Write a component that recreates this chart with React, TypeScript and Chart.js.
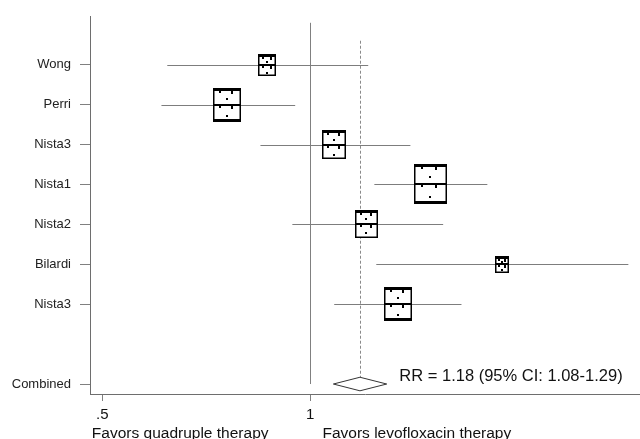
import { useEffect, useRef } from 'react';
import { Chart, registerables } from 'chart.js';

Chart.register(...registerables);

// ---- Data ----
const studies = ['Wong', 'Perri', 'Nista3', 'Nista1', 'Nista2', 'Bilardi', 'Nista3'];
const studyRows = [1, 2, 3, 4, 5, 6, 7];
const riskRatio = [0.866, 0.758, 1.083, 1.491, 1.205, 1.897, 1.341];
const ciLow = [0.621, 0.609, 0.847, 1.238, 0.942, 1.246, 1.083];
const ciHigh = [1.213, 0.951, 1.396, 1.804, 1.557, 2.886, 1.655];
const weights = [7.6, 18.3, 13.5, 25.4, 12.4, 4.6, 18.3];

const combinedLabel = 'Combined';
const combinedRow = 9;
const combinedRR = 1.18;
const combinedLow = 1.08;
const combinedHigh = 1.29;
const combinedText = 'RR = 1.18 (95% CI: 1.08-1.29)';

const xTickValues = [0.5, 1];
const xTickLabels = ['.5', '1'];
const favorTitles = ['Favors quadruple therapy', 'Favors levofloxacin therapy'];

const FONT = '"Liberation Sans", Arial, sans-serif';

const rowLabelMap: Record<number, string> = {};
studyRows.forEach((r, i) => (rowLabelMap[r] = studies[i]));
rowLabelMap[combinedRow] = combinedLabel;

const forestPlugin = {
  id: 'forest',
  afterDatasetsDraw(chart: any) {
    const { ctx } = chart;
    const x = chart.scales.x;
    const y = chart.scales.y;
    ctx.save();

    // no-effect line
    const px1 = Math.round(x.getPixelForValue(1)) + 0.5;
    ctx.strokeStyle = '#808080';
    ctx.lineWidth = 1;
    ctx.beginPath();
    ctx.moveTo(px1, y.getPixelForValue(-0.05));
    ctx.lineTo(px1, y.getPixelForValue(combinedRow));
    ctx.stroke();

    // overall effect dashed line
    const dH = 0.17;
    const pxC = Math.round(x.getPixelForValue(combinedRR)) + 0.5;
    ctx.setLineDash([3, 2]);
    ctx.strokeStyle = '#8a8a8a';
    ctx.beginPath();
    ctx.moveTo(pxC, y.getPixelForValue(0.4));
    ctx.lineTo(pxC, y.getPixelForValue(combinedRow - dH));
    ctx.stroke();
    ctx.setLineDash([]);

    // CI lines
    ctx.strokeStyle = '#7d7d7d';
    ctx.lineWidth = 1;
    studyRows.forEach((r, i) => {
      const py = Math.round(y.getPixelForValue(r)) + 0.5;
      ctx.beginPath();
      ctx.moveTo(x.getPixelForValue(ciLow[i]), py);
      ctx.lineTo(x.getPixelForValue(ciHigh[i]), py);
      ctx.stroke();
    });

    // boxes
    studyRows.forEach((r, i) => {
      const cx = x.getPixelForValue(riskRatio[i]);
      const cy = y.getPixelForValue(r);
      const w = Math.round(6.55 * Math.sqrt(weights[i]));
      const h = Math.round(w * 1.2);
      const left = Math.round(cx - w / 2);
      const top = Math.round(cy - h / 2);
      ctx.fillStyle = '#ffffff';
      ctx.fillRect(left, top, w, h);
      ctx.strokeStyle = '#000000';
      ctx.lineWidth = 1.5;
      ctx.strokeRect(left + 0.75, top + 0.75, w - 1.5, h - 1.5);
      ctx.fillStyle = '#000000';
      // thick top band
      ctx.fillRect(left, top, w, 3);
      // middle bar
      const mid = Math.round(cy);
      ctx.fillRect(left, mid - 1, w, 2);
      // little notches & dots
      ctx.fillRect(left + Math.round(w * 0.2), top + 3, 2, 2);
      ctx.fillRect(left + Math.round(w * 0.65), top + 3, 2, 3);
      ctx.fillRect(left + Math.round(w * 0.45), top + Math.round(h * 0.3), 2, 2);
      ctx.fillRect(left + Math.round(w * 0.2), mid + 1, 2, 2);
      ctx.fillRect(left + Math.round(w * 0.65), mid + 1, 2, 3);
      ctx.fillRect(left + Math.round(w * 0.45), mid + Math.round(h * 0.3), 2, 2);
      if (w > 24) {
        ctx.fillRect(left, top + h - 3, w, 3);
      }
    });

    // diamond
    const cyD = y.getPixelForValue(combinedRow);
    const hD = y.getPixelForValue(combinedRow) - y.getPixelForValue(combinedRow - dH);
    ctx.beginPath();
    ctx.moveTo(x.getPixelForValue(combinedLow), cyD);
    ctx.lineTo(x.getPixelForValue(combinedRR), cyD - hD);
    ctx.lineTo(x.getPixelForValue(combinedHigh), cyD);
    ctx.lineTo(x.getPixelForValue(combinedRR), cyD + hD);
    ctx.closePath();
    ctx.fillStyle = '#ffffff';
    ctx.fill();
    ctx.strokeStyle = '#333333';
    ctx.lineWidth = 1;
    ctx.stroke();

    // RR text
    ctx.fillStyle = '#111111';
    ctx.font = `16.5px ${FONT}`;
    ctx.textAlign = 'left';
    ctx.textBaseline = 'middle';
    ctx.fillText(combinedText, x.getPixelForValue(1.31) + 8, y.getPixelForValue(combinedRow - 0.18));

    // favors titles
    ctx.font = `15.5px ${FONT}`;
    ctx.textBaseline = 'alphabetic';
    ctx.fillStyle = '#111111';
    ctx.textAlign = 'right';
    ctx.fillText(favorTitles[0], px1 - 42, 438);
    ctx.textAlign = 'left';
    ctx.fillText(favorTitles[1], px1 + 12, 438);

    ctx.restore();
  },
};

export default function App() {
  const canvasRef = useRef<HTMLCanvasElement | null>(null);

  useEffect(() => {
    if (!canvasRef.current) return;
    const chart = new Chart(canvasRef.current, {
      type: 'scatter',
      data: {
        datasets: [
          {
            data: studyRows.map((r, i) => ({ x: riskRatio[i], y: r })),
            pointRadius: 0,
            showLine: false,
          },
        ],
      },
      options: {
        animation: false,
        responsive: false,
        layout: { padding: { top: 10, right: 0, left: 0, bottom: 0 } },
        plugins: {
          legend: { display: false },
          tooltip: { enabled: false },
        },
        scales: {
          x: {
            type: 'logarithmic',
            min: 0.48,
            max: 3.0,
            afterBuildTicks: (scale: any) => {
              scale.ticks = xTickValues.map((v) => ({ value: v }));
            },
            afterFit: (scale: any) => {
              scale.height = 45;
            },
            ticks: {
              autoSkip: false,
              maxRotation: 0,
              padding: 5,
              color: '#111111',
              font: { family: FONT, size: 15 },
              callback: (v: any) => {
                const idx = xTickValues.indexOf(Number(v));
                return idx >= 0 ? xTickLabels[idx] : '';
              },
            },
            grid: {
              drawOnChartArea: false,
              drawTicks: true,
              tickLength: 7,
              color: '#808080',
            },
            border: { display: true, color: '#6e6e6e', width: 1 },
          },
          y: {
            type: 'linear',
            reverse: true,
            min: -0.2,
            max: 9.25,
            afterBuildTicks: (scale: any) => {
              scale.ticks = [...studyRows, combinedRow].map((v) => ({ value: v }));
            },
            afterFit: (scale: any) => {
              scale.width = 90;
            },
            ticks: {
              autoSkip: false,
              padding: 9,
              color: '#222222',
              font: { family: FONT, size: 13 },
              callback: (v: any) => rowLabelMap[Number(v)] ?? '',
            },
            grid: {
              drawOnChartArea: false,
              drawTicks: true,
              tickLength: 10,
              color: '#808080',
            },
            border: { display: true, color: '#6e6e6e', width: 1 },
          },
        },
      },
      plugins: [forestPlugin],
    });
    return () => chart.destroy();
  }, []);

  return (
    <div style={{ position: 'absolute', left: 0, top: 0, width: 640, height: 439, background: '#fff' }}>
      <canvas ref={canvasRef} width={640} height={439} style={{ display: 'block', width: 640, height: 439 }} />
    </div>
  );
}
